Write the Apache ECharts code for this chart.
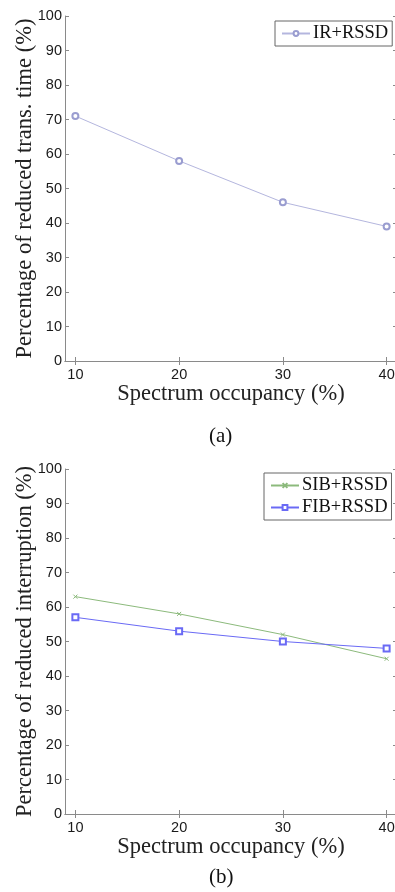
<!DOCTYPE html>
<html>
<head>
<meta charset="utf-8">
<script src="https://cdn.jsdelivr.net/npm/echarts@6/dist/echarts.min.js"></script>
<style>
  html, body { margin: 0; padding: 0; background: #fff; }
  #chart { width: 395px; height: 892px; }
</style>
</head>
<body>
<div id="chart"></div>
<script>
// spectrum occupancy (%) on x
const occupancy = [10, 20, 30, 40]

// (a) reduced transmission time
const irRssd = [71, 58, 46, 39]
// (b) reduced interruption
const sibRssd = [63, 58, 52, 45]
const fibRssd = [57, 53, 50, 48]

const serif = '"Liberation Serif", "Times New Roman", serif'
const sans = '"Liberation Sans", Arial, sans-serif'
const frame = '#8a8a8a'

const pair = (arr) => arr.map((v, i) => [occupancy[i], v])

// one boxed panel: bottom/left axes with labels, top/right with ticks only
function xAxes(gridIndex) {
  const base = {
    type: 'value', gridIndex, min: 9, max: 41,
    splitLine: { show: false },
    axisLine: { lineStyle: { color: frame } },
    axisTick: { inside: true, length: 4, customValues: occupancy, lineStyle: { color: frame } },
  }
  return [
    {
      ...base, position: 'bottom',
      name: 'Spectrum occupancy (%)', nameLocation: 'middle', nameGap: 21,
      nameTextStyle: { fontFamily: serif, fontSize: 22.5, color: '#222' },
      axisLabel: { customValues: occupancy, margin: 6, fontFamily: sans, fontSize: 14.5, color: '#1a1a1a' },
    },
    { ...base, position: 'top', axisLabel: { show: false } },
  ]
}

function yAxes(gridIndex, name) {
  const base = {
    type: 'value', gridIndex, min: 0, max: 100, interval: 10,
    splitLine: { show: false },
    axisLine: { lineStyle: { color: frame } },
    axisTick: { inside: true, length: 4, lineStyle: { color: frame } },
  }
  return [
    {
      ...base, position: 'left',
      name, nameLocation: 'middle', nameGap: 28, nameMoveOverlap: false,
      nameTextStyle: { fontFamily: serif, fontSize: 22.5, color: '#222' },
      axisLabel: { margin: 3, fontFamily: sans, fontSize: 14.5, color: '#1a1a1a' },
    },
    { ...base, position: 'right', axisLabel: { show: false } },
  ]
}

const legendBase = {
  orient: 'vertical',
  itemWidth: 28, itemHeight: 6, itemGap: 3,
  padding: [3, 4, 3, 6], borderColor: '#666', borderWidth: 1, backgroundColor: '#fff',
  textStyle: { fontFamily: serif, fontSize: 18.5, color: '#111', padding: [0, 0, 0, -2] },
}

const chart = echarts.init(document.getElementById('chart'), null, { renderer: 'canvas' })

chart.setOption({
  backgroundColor: '#fff',
  animation: false,
  grid: [
    { left: 65, top: 16, width: 332, height: 345, outerBoundsMode: 'none', containLabel: false },
    { left: 65, top: 469, width: 332, height: 345, outerBoundsMode: 'none', containLabel: false },
  ],
  xAxis: [...xAxes(0), ...xAxes(1)],
  yAxis: [
    ...yAxes(0, 'Percentage of reduced trans. time (%)'),
    ...yAxes(1, 'Percentage of reduced interruption (%)'),
  ],
  legend: [
    { ...legendBase, data: ['IR+RSSD'], left: 275, top: 21 },
    { ...legendBase, data: ['SIB+RSSD', 'FIB+RSSD'], left: 264, top: 473 },
  ],
  series: [
    {
      name: 'IR+RSSD', type: 'line', xAxisIndex: 0, yAxisIndex: 0,
      data: pair(irRssd), symbol: 'emptyCircle', symbolSize: 6,
      lineStyle: { color: '#b4b6de', width: 1 }, itemStyle: { color: '#9a9dd0' },
    },
    {
      name: 'SIB+RSSD', type: 'line', xAxisIndex: 2, yAxisIndex: 2,
      data: pair(sibRssd), symbol: 'path://M0,0L10,10M10,0L0,10', symbolSize: 4,
      lineStyle: { color: '#8cba7c', width: 1 }, itemStyle: { color: '#8cba7c', borderColor: '#8cba7c', borderWidth: 1 },
    },
    {
      name: 'FIB+RSSD', type: 'line', xAxisIndex: 2, yAxisIndex: 2,
      data: pair(fibRssd), symbol: 'emptyRect', symbolSize: 6,
      lineStyle: { color: '#6a6af5', width: 1 }, itemStyle: { color: '#6a6af5' },
    },
  ],
  graphic: [
    { type: 'text', left: 209, top: 426, style: { text: '(a)', font: '21px ' + serif, fill: '#111' } },
    { type: 'text', left: 209, top: 867, style: { text: '(b)', font: '21px ' + serif, fill: '#111' } },
  ],
})
</script>
</body>
</html>
